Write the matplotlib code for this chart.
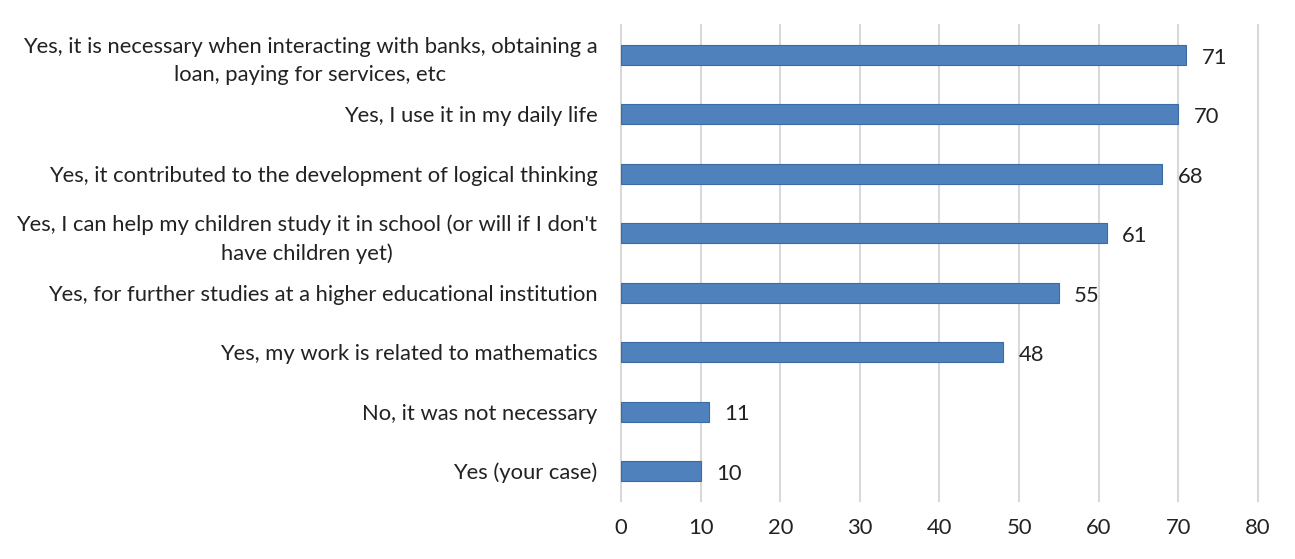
import matplotlib.pyplot as plt

plt.rcParams["font.family"] = ["Lato", "DejaVu Sans"]

categories = [
    "Yes, it is necessary when interacting with banks, obtaining a\nloan, paying for services, etc",
    "Yes, I use it in my daily life",
    "Yes, it contributed to the development of logical thinking",
    "Yes, I can help my children study it in school (or will if I don't\nhave children yet)",
    "Yes, for further studies at a higher educational institution",
    "Yes, my work is related to mathematics",
    "No, it was not necessary",
    "Yes (your case)",
]
values = [71, 70, 68, 61, 55, 48, 11, 10]
x_ticks = [0, 10, 20, 30, 40, 50, 60, 70, 80]

FS = 15.8

fig = plt.figure(figsize=(12.95, 5.59), dpi=100)
ax = fig.add_axes([0.4795, 0.104, 0.4919, 0.851])

ypos = list(range(len(categories)))[::-1]
ax.barh(ypos, values, height=0.34, color="#4F81BD", edgecolor="#3A6BA5",
        linewidth=0.8, zorder=3)

for y, v in zip(ypos, values):
    ax.annotate(str(v), (v, y), xytext=(11, -2), textcoords="offset points",
                va="center", ha="left", fontsize=FS, color="#222222")

ax.set_xlim(0, 80)
ax.set_ylim(-0.5, len(categories) - 0.5)
ax.set_xticks(x_ticks)
ax.set_yticks(ypos)
ax.set_yticklabels(categories, fontsize=FS, color="#222222",
                   multialignment="center", linespacing=1.5)
ax.tick_params(axis="x", labelsize=FS, colors="#222222", length=0, pad=12)
ax.tick_params(axis="y", length=0, pad=17)
ax.grid(axis="x", color="#D9D9D9", linewidth=1.5, zorder=0)
ax.set_axisbelow(True)
for s in ax.spines.values():
    s.set_visible(False)
for gl in ax.get_xgridlines():
    gl.set_clip_on(False)

fig.savefig("out.png", dpi=100)
